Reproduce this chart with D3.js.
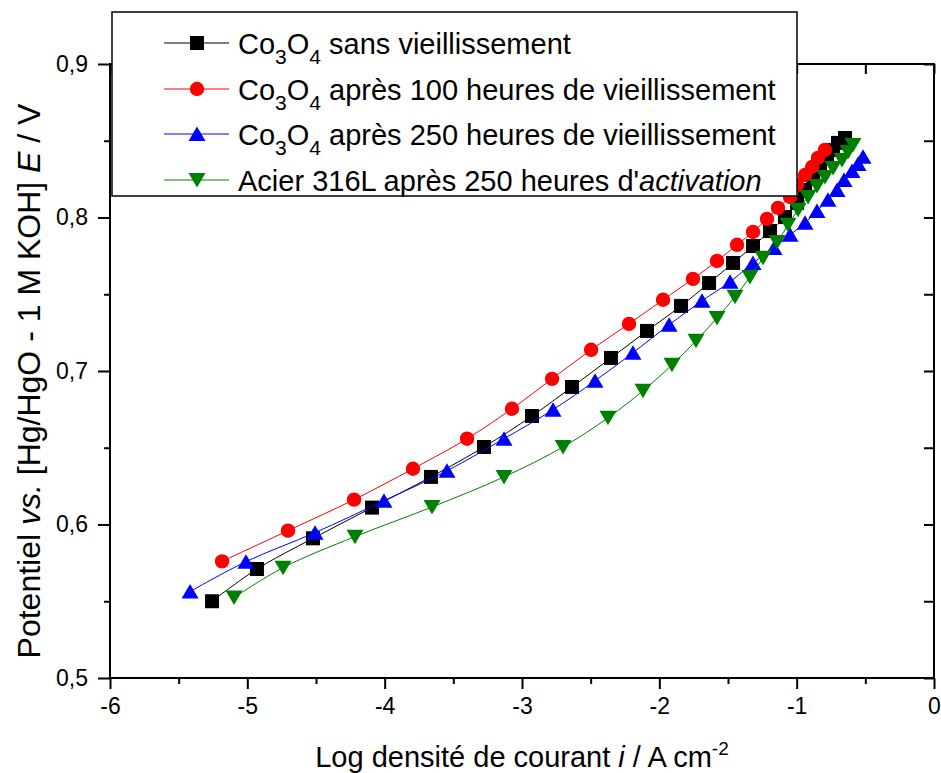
<!DOCTYPE html>
<html>
<head>
<meta charset="utf-8">
<script src="https://cdn.jsdelivr.net/npm/d3@7"></script>
<style>
html,body{margin:0;padding:0;background:#fff;}
svg{display:block;font-family:"Liberation Sans",Arial,sans-serif;}
</style>
</head>
<body>
<svg id="chart" width="941" height="773"></svg>
<script>
// ---- data ----
const seriesNames = ["sans", "100h", "250h", "acier"];
const blackX = [-5.257,-4.930,-4.522,-4.092,-3.663,-3.277,-2.927,-2.636,-2.352,-2.090,-1.842,-1.638,-1.463,-1.318,-1.194,-1.085,-0.997,-0.939,-0.881,-0.830,-0.779,-0.735,-0.699,-0.648];
const blackY = [0.550,0.571,0.591,0.611,0.631,0.6505,0.6707,0.6896,0.7085,0.7261,0.7424,0.7573,0.7704,0.7814,0.7912,0.8003,0.8095,0.8179,0.8258,0.8329,0.8388,0.844,0.8486,0.8518];
const redX = [-5.184,-4.704,-4.223,-3.794,-3.400,-3.073,-2.781,-2.497,-2.221,-1.973,-1.755,-1.580,-1.434,-1.318,-1.216,-1.136,-1.048,-0.997,-0.939,-0.888,-0.845,-0.794];
const redY = [0.576,0.596,0.6162,0.6363,0.6559,0.6754,0.6949,0.7138,0.7307,0.7464,0.760,0.7717,0.7822,0.7906,0.7991,0.8063,0.8134,0.8212,0.8277,0.8329,0.8388,0.844];
const blueX = [-5.417,-5.010,-4.507,-4.005,-3.546,-3.131,-2.774,-2.468,-2.192,-1.929,-1.689,-1.485,-1.318,-1.165,-1.048,-0.939,-0.852,-0.772,-0.706,-0.655,-0.597,-0.553,-0.517];
const blueY = [0.5563,0.5758,0.5947,0.6155,0.635,0.6559,0.6748,0.6936,0.7119,0.7301,0.7457,0.7581,0.7704,0.7802,0.7887,0.7965,0.8043,0.8115,0.8179,0.8245,0.8303,0.8349,0.8395];
const greenX = [-5.097,-4.740,-4.216,-3.655,-3.131,-2.701,-2.374,-2.119,-1.908,-1.733,-1.580,-1.449,-1.340,-1.245,-1.143,-1.063,-0.990,-0.917,-0.852,-0.794,-0.735,-0.670,-0.626,-0.590];
const greenY = [0.5524,0.5719,0.5921,0.6114,0.631,0.6505,0.6695,0.6871,0.704,0.7197,0.7346,0.7483,0.7613,0.7737,0.7841,0.7952,0.805,0.8134,0.8206,0.8264,0.8323,0.8375,0.8427,0.8473];

const xTickValues = [-6,-5,-4,-3,-2,-1,0];
const xTickLabels = ["-6","-5","-4","-3","-2","-1","0"];
const xMinorValues = [-5.5,-4.5,-3.5,-2.5,-1.5,-0.5];
const yTickValues = [0.5,0.6,0.7,0.8,0.9];
const yTickLabels = ["0,5","0,6","0,7","0,8","0,9"];
const yMinorValues = [0.55,0.65,0.75,0.85];

const series = [
  {name:seriesNames[0], xs:blackX, ys:blackY, color:"#000000", marker:"square"},
  {name:seriesNames[1], xs:redX, ys:redY, color:"#ff0000", marker:"circle"},
  {name:seriesNames[2], xs:blueX, ys:blueY, color:"#0000ff", marker:"up"},
  {name:seriesNames[3], xs:greenX, ys:greenY, color:"#008000", marker:"down"}
];

// ---- layout ----
const L = 110, R = 934, T = 64, B = 678;
const svg = d3.select("#chart");
const x = d3.scaleLinear().domain([-6,0]).range([L,R]);
const y = d3.scaleLinear().domain([0.5,0.9]).range([B,T]);

function markerPath(type){
  if(type==="square"){ const s=7; return `M${-s},${-s}H${s}V${s}H${-s}Z`; }
  if(type==="circle"){ const r=7.2; return `M${r},0A${r},${r} 0 1,1 ${-r},0A${r},${r} 0 1,1 ${r},0Z`; }
  if(type==="up"){ return "M0,-7.5L8.5,7L-8.5,7Z"; }
  if(type==="down"){ return "M0,7.5L8.5,-7L-8.5,-7Z"; }
}

// ---- series ----
const line = d3.line().x(d=>x(d[0])).y(d=>y(d[1])).curve(d3.curveCatmullRom.alpha(0.5));
const gData = svg.append("g");
series.forEach(s=>{
  const pts = s.xs.map((v,i)=>[v, s.ys[i]]);
  const g = gData.append("g");
  g.append("path").attr("d", line(pts)).attr("fill","none").attr("stroke",s.color).attr("stroke-width",1);
  g.selectAll("path.m").data(pts).enter().append("path").attr("class","m")
    .attr("d", markerPath(s.marker))
    .attr("transform", d=>`translate(${x(d[0])},${y(d[1])})`)
    .attr("fill", s.color);
});

// ---- axes ----
const fontTick = 23;
function styleAxis(g){
  g.select(".domain").remove();
  g.selectAll(".tick line").attr("stroke","#000").attr("stroke-width",2);
  g.selectAll(".tick text").attr("font-size",fontTick).attr("fill","#000").attr("font-family","Liberation Sans, Arial, sans-serif");
}
const gx = svg.append("g").attr("transform",`translate(0,${B})`)
  .call(d3.axisBottom(x).tickValues(xTickValues).tickSize(11).tickPadding(9).tickFormat((d,i)=>xTickLabels[i]));
styleAxis(gx);
const gxm = svg.append("g").attr("transform",`translate(0,${B})`)
  .call(d3.axisBottom(x).tickValues(xMinorValues).tickSize(6).tickFormat(""));
styleAxis(gxm);
const gy = svg.append("g").attr("transform",`translate(${L},0)`)
  .call(d3.axisLeft(y).tickValues(yTickValues).tickSize(12).tickPadding(10).tickFormat((d,i)=>yTickLabels[i]));
styleAxis(gy);
const gym = svg.append("g").attr("transform",`translate(${L},0)`)
  .call(d3.axisLeft(y).tickValues(yMinorValues).tickSize(6).tickFormat(""));
styleAxis(gym);
// mirrored right / top ticks (inward)
const gr = svg.append("g").attr("transform",`translate(${R},0)`)
  .call(d3.axisRight(y).tickValues(yTickValues.concat(yMinorValues)).tickSize(-10).tickFormat(""));
styleAxis(gr);
const gt = svg.append("g").attr("transform",`translate(0,${T})`)
  .call(d3.axisTop(x).tickValues(xTickValues.concat(xMinorValues)).tickSize(-10).tickFormat(""));
styleAxis(gt);

// frame
svg.append("rect").attr("x",L).attr("y",T).attr("width",R-L).attr("height",B-T)
  .attr("fill","none").attr("stroke","#000").attr("stroke-width",2);

// axis titles
const xt = svg.append("text").attr("x",(L+R)/2).attr("y",767).attr("text-anchor","middle")
  .attr("font-size",29).attr("fill","#000");
xt.append("tspan").text("Log densité de courant ");
xt.append("tspan").attr("font-style","italic").text("i");
xt.append("tspan").text(" / A cm");
xt.append("tspan").attr("font-size",19).attr("dy",-12).text("-2");

const yt = svg.append("text").attr("transform",`translate(40,381) rotate(-90)`)
  .attr("text-anchor","middle").attr("font-size",32).attr("fill","#000");
yt.append("tspan").text("Potentiel ");
yt.append("tspan").attr("font-style","italic").text("vs.");
yt.append("tspan").text(" [Hg/HgO - 1 M KOH] ");
yt.append("tspan").attr("font-style","italic").text("E");
yt.append("tspan").text(" / V");

// ---- legend ----
const lg = svg.append("g");
lg.append("rect").attr("x",112).attr("y",12).attr("width",685).attr("height",184)
  .attr("fill","#fff").attr("stroke","#000").attr("stroke-width",1.5);
const legendRows = [
  {parts:[["Co"],["3","sub"],["O"],["4","sub"],[" sans vieillissement"]]},
  {parts:[["Co"],["3","sub"],["O"],["4","sub"],[" après 100 heures de vieillissement"]]},
  {parts:[["Co"],["3","sub"],["O"],["4","sub"],[" après 250 heures de vieillissement"]]},
  {parts:[["Acier 316L après 250 heures d'"],["activation","it"]]}
];
const rowY = [43, 89, 134, 180];
series.forEach((s,i)=>{
  const cy = rowY[i];
  lg.append("line").attr("x1",164).attr("x2",229).attr("y1",cy).attr("y2",cy).attr("stroke",s.color).attr("stroke-width",1);
  lg.append("path").attr("d",markerPath(s.marker)).attr("transform",`translate(197,${cy})`).attr("fill",s.color);
  const t = lg.append("text").attr("x",238).attr("y",cy+11).attr("font-size",29).attr("fill","#000");
  let shifted = false;
  legendRows[i].parts.forEach(p=>{
    const ts = t.append("tspan").text(p[0]);
    if(p[1]==="sub"){ ts.attr("font-size",21).attr("dy", shifted?0:10); shifted = true; }
    else { if(shifted){ ts.attr("dy",-10); shifted=false; } }
    if(p[1]==="it") ts.attr("font-style","italic");
  });
});
</script>
</body>
</html>
